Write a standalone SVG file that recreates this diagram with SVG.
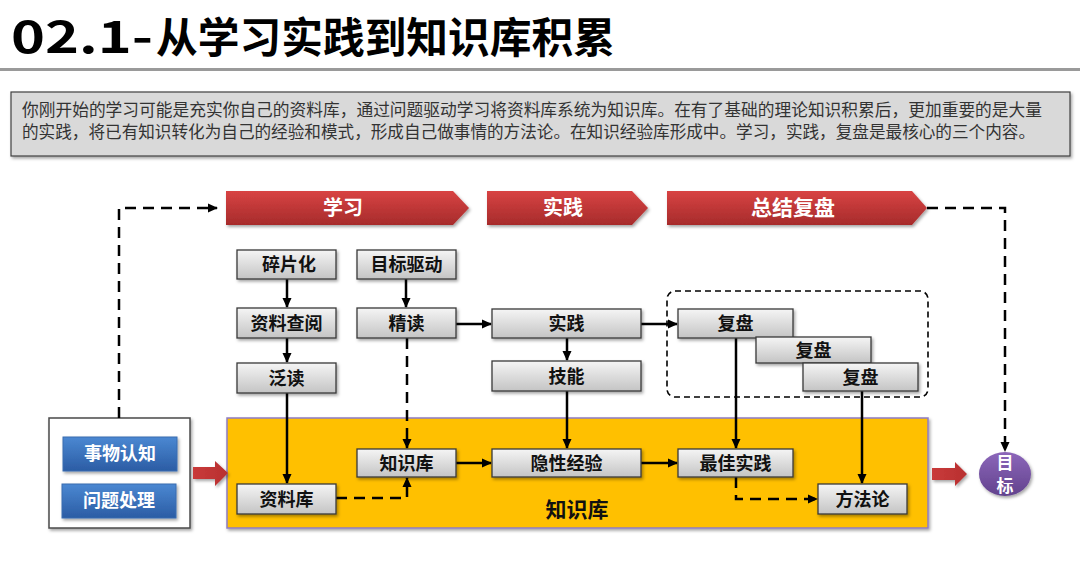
<svg xmlns="http://www.w3.org/2000/svg" width="1080" height="562" viewBox="0 0 1080 562">
<defs>
<style>
.cjk{font-family:"Noto Sans CJK SC","Noto Sans CJK TC",sans-serif}
.bx{fill:url(#gGray);stroke:#3a3a3a;stroke-width:1.3;filter:url(#sh)}
.bt{font-family:"Noto Sans CJK SC",sans-serif;font-size:18px;font-weight:700;fill:#111;text-anchor:middle}
.wt{font-family:"Noto Sans CJK SC",sans-serif;font-weight:700;fill:#fff;text-anchor:middle}
.ban{fill:url(#gRed);filter:url(#sh)}
.sol{fill:none;stroke:#000;stroke-width:2.5}
.dsh{fill:none;stroke:#000;stroke-width:2.5;stroke-dasharray:11 7}
.blue{fill:url(#gBlue);stroke:#3b6db0;stroke-width:1;filter:url(#sh)}
</style>
<linearGradient id="gGray" x1="0" y1="0" x2="0" y2="1"><stop offset="0" stop-color="#f5f5f5"/><stop offset="1" stop-color="#c4c4c4"/></linearGradient>
<linearGradient id="gRed" x1="0" y1="0" x2="0" y2="1"><stop offset="0" stop-color="#d84343"/><stop offset="1" stop-color="#a62b2b"/></linearGradient>
<linearGradient id="gRedH" x1="0" y1="0" x2="1" y2="0"><stop offset="0" stop-color="#c93a3a"/><stop offset="1" stop-color="#b83030"/></linearGradient>
<linearGradient id="gBlue" x1="0" y1="0" x2="0" y2="1"><stop offset="0" stop-color="#4b88d2"/><stop offset="1" stop-color="#2b5ca4"/></linearGradient>
<linearGradient id="gPur" x1="0" y1="0" x2="0" y2="1"><stop offset="0" stop-color="#8c67ba"/><stop offset="1" stop-color="#62428d"/></linearGradient>
<filter id="sh" x="-10%" y="-20%" width="130%" height="160%"><feDropShadow dx="1.5" dy="2" stdDeviation="1.5" flood-color="#000" flood-opacity="0.35"/></filter>
<marker id="ah" markerUnits="userSpaceOnUse" markerWidth="10" markerHeight="10" viewBox="0 0 10 10" refX="9" refY="5" orient="auto"><path d="M0,0.5 L10,5 L0,9.5 Z" fill="#000" stroke="none"/></marker>
</defs>
<rect width="1080" height="562" fill="#fff"/>

<g id="title">
<text x="11" y="53" class="cjk" font-size="44" font-weight="700" fill="#000" textLength="142" lengthAdjust="spacingAndGlyphs">02.1-</text>
<text x="156" y="53" class="cjk" font-size="42" font-weight="700" fill="#000" textLength="459" lengthAdjust="spacingAndGlyphs">从学习实践到知识库积累</text>
<rect x="0" y="68" width="1080" height="3" fill="#9a9a9a"/>
</g>

<g id="intro">
<rect x="11" y="92" width="1059" height="64" fill="#d9d9d9" stroke="#404040" stroke-width="1.2" filter="url(#sh)"/>
<text x="22" y="116" class="cjk" font-size="16.5" fill="#333" textLength="1020" lengthAdjust="spacingAndGlyphs">你刚开始的学习可能是充实你自己的资料库，通过问题驱动学习将资料库系统为知识库。在有了基础的理论知识积累后，更加重要的是大量</text>
<text x="22" y="138" class="cjk" font-size="16.5" fill="#333" textLength="1013" lengthAdjust="spacingAndGlyphs">的实践，将已有知识转化为自己的经验和模式，形成自己做事情的方法论。在知识经验库形成中。学习，实践，复盘是最核心的三个内容。</text>
</g>

<g id="banner-learn"><path class="ban" d="M226,191 H453 L469,208 L453,225 H226 Z"/><text x="343" y="215" class="wt" font-size="20">学习</text></g>
<g id="banner-practice"><path class="ban" d="M487,191 H632 L648,208 L632,225 H487 Z"/><text x="563" y="215" class="wt" font-size="20">实践</text></g>
<g id="banner-review"><path class="ban" d="M667,191 H912 L927,208 L912,225 H667 Z"/><text x="793" y="215" class="wt" font-size="21">总结复盘</text></g>

<g id="kb-area">
<rect x="227" y="418" width="701" height="110" fill="#ffc000" stroke="#8e7cc3" stroke-width="1.5" filter="url(#sh)"/>
<text x="577" y="517" class="bt" font-size="21" style="font-size:21px">知识库</text>
</g>

<g id="input-box">
<rect x="49" y="418" width="141" height="110" fill="#fff" stroke="#4a4a4a" stroke-width="1.5" filter="url(#sh)"/>
</g>
<g id="n-cognition"><rect class="blue" x="63" y="437" width="114" height="34"/><text x="120" y="460" class="wt" font-size="18">事物认知</text></g>
<g id="n-problem"><rect class="blue" x="62" y="484" width="114" height="34"/><text x="119" y="507" class="wt" font-size="18">问题处理</text></g>

<g id="review-group"><rect x="667" y="291" width="261" height="106" rx="8" fill="none" stroke="#000" stroke-width="1.6" stroke-dasharray="6 4"/></g>

<g id="block-arrow-in"><path d="M193,467 H215 V461 L228,473 L215,486 V479 H193 Z" fill="url(#gRedH)" filter="url(#sh)"/></g>
<g id="block-arrow-out"><path d="M932,468 H955 V462 L967,474 L955,486 V480 H932 Z" fill="url(#gRedH)" filter="url(#sh)"/></g>

<g id="connectors">
<path class="dsh" d="M119,418 V208 H217" marker-end="url(#ah)"/>
<path class="dsh" d="M927,208 H1005 V451" marker-end="url(#ah)"/>
<path class="sol" d="M287,279 V307" marker-end="url(#ah)"/>
<path class="sol" d="M287,338 V362" marker-end="url(#ah)"/>
<path class="sol" d="M406,279 V307" marker-end="url(#ah)"/>
<path class="sol" d="M456,324 H491" marker-end="url(#ah)"/>
<path class="sol" d="M567,338 V360" marker-end="url(#ah)"/>
<path class="sol" d="M641,324 H677" marker-end="url(#ah)"/>
<path class="sol" d="M287,393 V483" marker-end="url(#ah)"/>
<path class="dsh" d="M407,338 V448" marker-end="url(#ah)"/>
<path class="dsh" d="M336,498 H407 V478" marker-end="url(#ah)"/>
<path class="sol" d="M456,463 H491" marker-end="url(#ah)"/>
<path class="sol" d="M567,391 V448" marker-end="url(#ah)"/>
<path class="sol" d="M641,463 H677" marker-end="url(#ah)"/>
<path class="sol" d="M736,338 V448" marker-end="url(#ah)"/>
<path class="sol" d="M862,391 V483" marker-end="url(#ah)"/>
<path class="dsh" d="M736,477 V499 H817" marker-end="url(#ah)"/>
</g>

<g id="n-fragment"><rect class="bx" x="237" y="250" width="99" height="29"/><text x="289" y="271" class="bt">碎片化</text></g>
<g id="n-goal"><rect class="bx" x="357" y="250" width="99" height="29"/><text x="406.5" y="271" class="bt">目标驱动</text></g>
<g id="n-lookup"><rect class="bx" x="237" y="308" width="99" height="30"/><text x="286.5" y="329.5" class="bt">资料查阅</text></g>
<g id="n-intensive"><rect class="bx" x="357" y="308" width="99" height="30"/><text x="406.5" y="329.5" class="bt">精读</text></g>
<g id="n-extensive"><rect class="bx" x="237" y="363" width="99" height="30"/><text x="286.5" y="384.5" class="bt">泛读</text></g>
<g id="n-practice"><rect class="bx" x="492" y="309" width="149" height="29"/><text x="566.5" y="330" class="bt">实践</text></g>
<g id="n-skill"><rect class="bx" x="492" y="361" width="149" height="30"/><text x="566.5" y="382.5" class="bt">技能</text></g>
<g id="n-review1"><rect class="bx" x="678" y="309" width="115" height="29"/><text x="735.5" y="330" class="bt">复盘</text></g>
<g id="n-review2"><rect class="bx" x="756" y="337" width="115" height="26"/><text x="813.5" y="356.5" class="bt">复盘</text></g>
<g id="n-review3"><rect class="bx" x="803" y="363" width="115" height="28"/><text x="860.5" y="383.5" class="bt">复盘</text></g>
<g id="n-material"><rect class="bx" x="237" y="484" width="99" height="30"/><text x="286.5" y="505.5" class="bt">资料库</text></g>
<g id="n-knowledge"><rect class="bx" x="357" y="449" width="99" height="28"/><text x="406.5" y="469.5" class="bt">知识库</text></g>
<g id="n-tacit"><rect class="bx" x="492" y="449" width="149" height="28"/><text x="566.5" y="469.5" class="bt">隐性经验</text></g>
<g id="n-best"><rect class="bx" x="678" y="449" width="115" height="28"/><text x="735.5" y="469.5" class="bt">最佳实践</text></g>
<g id="n-method"><rect class="bx" x="818" y="484" width="89" height="30"/><text x="862.5" y="505.5" class="bt">方法论</text></g>
<g id="n-target"><ellipse cx="1005" cy="474" rx="26" ry="22" fill="url(#gPur)" filter="url(#sh)"/><text x="1005" y="469" class="wt" font-size="17">目</text><text x="1005" y="492" class="wt" font-size="17">标</text></g>
</svg>
